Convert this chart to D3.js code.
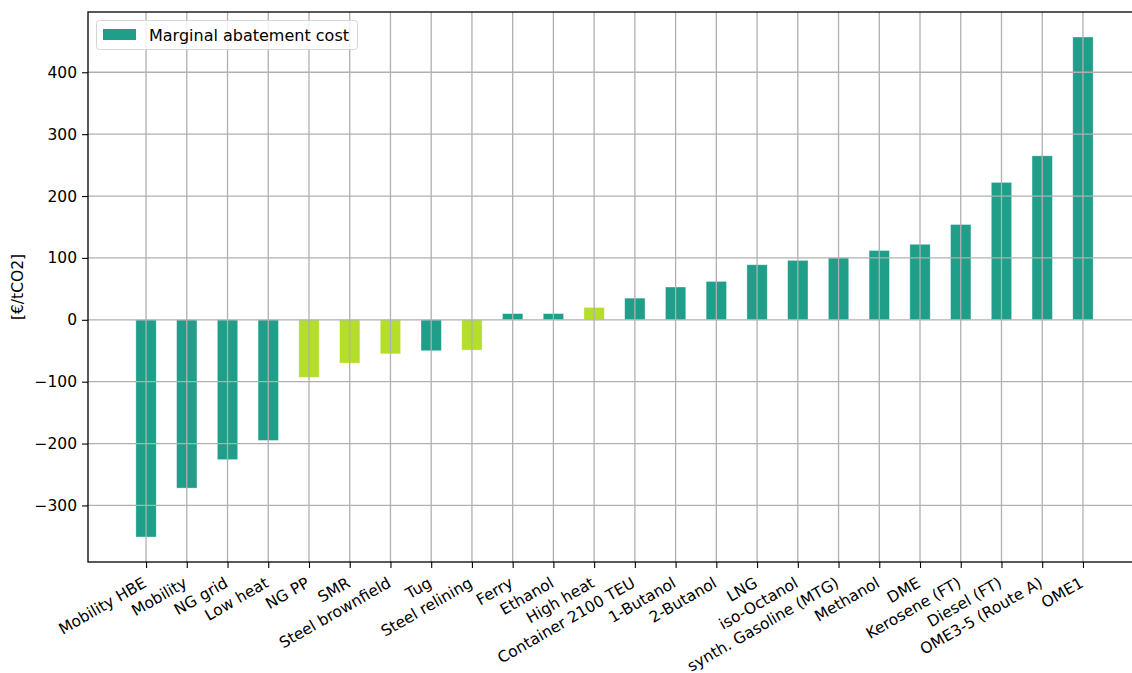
<!DOCTYPE html>
<html>
<head>
<meta charset="utf-8">
<script src="https://cdn.jsdelivr.net/npm/d3@7"></script>
<style>
  html, body { margin: 0; padding: 0; background: #ffffff; overflow: hidden; }
  svg { display: block; }
  svg text { font-family: "DejaVu Sans", sans-serif; }
</style>
</head>
<body>
<svg id="chart" width="1132" height="673"></svg>
<script>
// Marginal abatement cost per measure, sorted ascending
const categories = [
  "Mobility HBE", "Mobility", "NG grid", "Low heat", "NG PP", "SMR",
  "Steel brownfield", "Tug", "Steel relining", "Ferry", "Ethanol", "High heat",
  "Container 2100 TEU", "1-Butanol", "2-Butanol", "LNG", "iso-Octanol",
  "synth. Gasoline (MTG)", "Methanol", "DME", "Kerosene (FT)", "Diesel (FT)",
  "OME3-5 (Route A)", "OME1"
];
const costs = [
  -351, -272, -226, -195, -93, -70,
  -55, -50, -49, 10, 10, 20,
  35, 53, 62, 89, 96,
  100, 112, 122, 154, 222,
  265, 457
];
// Sector group of each measure: "industry" measures are drawn in lime
const groups = [
  "fuel", "fuel", "fuel", "fuel", "industry", "industry",
  "industry", "fuel", "industry", "fuel", "fuel", "industry",
  "fuel", "fuel", "fuel", "fuel", "fuel",
  "fuel", "fuel", "fuel", "fuel", "fuel",
  "fuel", "fuel"
];
const yTicks = [-300, -200, -100, 0, 100, 200, 300, 400];
const seriesName = "Marginal abatement cost";
const yLabel = "[€/tCO2]";

const colorOf = { fuel: "#1f9e89", industry: "#b5de2b" };
const FONT = "DejaVu Sans, sans-serif";

const svg = d3.select("#chart");
// the axes box runs a little past the right edge of the figure
const x0 = 88, x1 = 1141;
const y0 = 12, y1 = 562;

// matplotlib-style limits: data extents padded by 5%
const n = categories.length;
const barW = 0.5;
const xLo = -barW / 2, xHi = n - 1 + barW / 2;
const xPad = 0.05 * (xHi - xLo);
const x = d3.scaleLinear().domain([xLo - xPad, xHi + xPad]).range([x0, x1]);

const vMin = Math.min(0, d3.min(costs)), vMax = Math.max(0, d3.max(costs));
const yPad = 0.05 * (vMax - vMin);
const y = d3.scaleLinear().domain([vMin - yPad, vMax + yPad]).range([y1, y0]);

// bars
svg.append("g").selectAll("rect")
  .data(costs)
  .enter().append("rect")
  .attr("x", (d, i) => x(i - barW / 2))
  .attr("width", x(barW) - x(0))
  .attr("y", d => y(Math.max(0, d)))
  .attr("height", d => Math.abs(y(d) - y(0)))
  .attr("fill", (d, i) => colorOf[groups[i]])
  .attr("stroke", "#ffffff")
  .attr("stroke-opacity", 0.45)
  .attr("stroke-width", 0.8);

// grid drawn over the bars
const grid = svg.append("g")
  .attr("stroke", "#b0b0b0")
  .attr("stroke-width", 1.3);
grid.selectAll("line.gx")
  .data(d3.range(n))
  .enter().append("line")
  .attr("x1", i => x(i)).attr("x2", i => x(i))
  .attr("y1", y0).attr("y2", y1);
grid.selectAll("line.gy")
  .data(yTicks)
  .enter().append("line")
  .attr("y1", d => y(d)).attr("y2", d => y(d))
  .attr("x1", x0).attr("x2", x1);

// x axis
const xAxis = d3.axisBottom(x)
  .tickValues(d3.range(n))
  .tickFormat(i => categories[i])
  .tickSize(6).tickPadding(4);
const gx = svg.append("g")
  .attr("transform", `translate(0,${y1})`)
  .call(xAxis)
  .attr("font-family", FONT);
gx.select(".domain").remove();
gx.selectAll(".tick line").attr("stroke", "#000").attr("stroke-width", 1.1);
gx.selectAll(".tick text")
  .attr("font-size", 15.5)
  .attr("fill", "#000")
  .attr("text-anchor", "end")
  .attr("dy", null)
  .attr("y", null)
  .attr("transform", "translate(1,24) rotate(-30)");

// y axis
const yAxis = d3.axisLeft(y)
  .tickValues(yTicks)
  .tickFormat(d => d < 0 ? "\u2212" + Math.abs(d) : String(d))
  .tickSize(6).tickPadding(5);
const gy = svg.append("g")
  .attr("transform", `translate(${x0},0)`)
  .call(yAxis)
  .attr("font-family", FONT);
gy.select(".domain").remove();
gy.selectAll(".tick line").attr("stroke", "#000").attr("stroke-width", 1.1);
gy.selectAll(".tick text").attr("font-size", 15.5).attr("fill", "#000");

// spines
svg.append("rect")
  .attr("x", x0).attr("y", y0)
  .attr("width", x1 - x0).attr("height", y1 - y0)
  .attr("fill", "none").attr("stroke", "#000").attr("stroke-width", 1.3);

// y label
svg.append("text")
  .attr("transform", `translate(23,${(y0 + y1) / 2}) rotate(-90)`)
  .attr("text-anchor", "middle")
  .attr("font-size", 15.5)
  .attr("fill", "#000")
  .text(yLabel);

// legend
const lg = svg.append("g").attr("transform", `translate(${x0 + 8},${y0 + 8})`);
lg.append("rect")
  .attr("x", 0.5).attr("y", 0.5).attr("width", 261).attr("height", 29)
  .attr("rx", 3)
  .attr("fill", "#ffffff").attr("fill-opacity", 0.8)
  .attr("stroke", "#d6d6d6").attr("stroke-width", 1);
lg.append("rect")
  .attr("x", 7).attr("y", 9).attr("width", 33).attr("height", 11)
  .attr("fill", colorOf.fuel);
lg.append("text")
  .attr("x", 53).attr("y", 15).attr("dominant-baseline", "central")
  .attr("font-size", 16)
  .attr("fill", "#000")
  .text(seriesName);
</script>
</body>
</html>
